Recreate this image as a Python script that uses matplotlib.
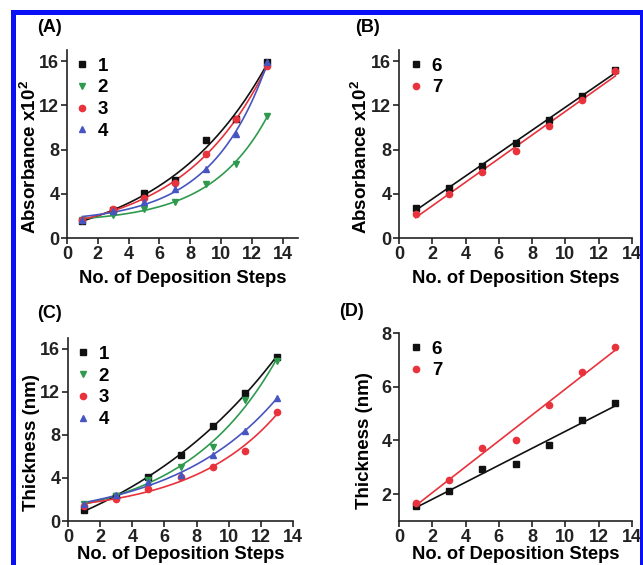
import numpy as np
import matplotlib
matplotlib.use("Agg")
import matplotlib.pyplot as plt
from matplotlib.patches import Rectangle

plt.rcParams['font.family'] = ['Liberation Sans', 'DejaVu Sans']
plt.rcParams['font.weight'] = 'bold'
plt.rcParams['mathtext.fontset'] = 'custom'
plt.rcParams['mathtext.rm'] = 'Liberation Sans:bold'
plt.rcParams['mathtext.bf'] = 'Liberation Sans:bold'

steps = [1, 3, 5, 7, 9, 11, 13]

# Panel A: absorbance x10^2, samples 1-4
abs_1 = [1.5, 2.5, 4.1, 5.2, 8.9, 10.8, 15.9]
abs_2 = [1.6, 2.06, 2.6, 3.3, 4.85, 6.67, 11.06]
abs_3 = [1.6, 2.6, 3.6, 5.0, 7.6, 10.76, 15.55]
abs_4 = [1.6, 2.4, 3.27, 4.4, 6.2, 9.4, 15.9]

# Panel B: absorbance x10^2, samples 6-7
abs_6 = [2.74, 4.5, 6.5, 8.58, 10.7, 12.83, 15.15]
abs_7 = [2.17, 4.0, 6.0, 7.9, 10.1, 12.5, 15.06]

# Panel C: thickness (nm), samples 1-4
thk_1 = [1.0, 2.3, 4.07, 6.14, 8.8, 11.85, 15.25]
thk_2 = [1.6, 2.3, 3.77, 5.0, 6.85, 11.2, 14.9]
thk_3 = [1.4, 2.0, 3.0, 4.07, 5.0, 6.54, 10.15]
thk_4 = [1.6, 2.4, 3.6, 4.23, 6.14, 8.4, 11.4]

# Panel D: thickness (nm), samples 6-7
thk_6 = [1.55, 2.12, 2.95, 3.14, 3.82, 4.75, 5.41]
thk_7 = [1.68, 2.52, 3.73, 4.0, 5.31, 6.55, 7.48]

labels_a = ['1', '2', '3', '4']
labels_b = ['6', '7']

BLACK = '#111111'
GREEN = '#2f9a4e'
RED = '#e8323c'
BLUE = '#4655c0'

W, H = 643, 565
fig = plt.figure(figsize=(W / 100, H / 100), dpi=100)


def px_axes(left, right, top, bottom):
    return fig.add_axes([left / W, 1 - bottom / H, (right - left) / W, (bottom - top) / H])


def exp_fit(x, y):
    x = np.asarray(x, float)
    y = np.asarray(y, float)
    best = None
    for k in np.linspace(0.02, 0.6, 600):
        A = np.column_stack([np.ones_like(x), np.exp(k * x)])
        coef, *_ = np.linalg.lstsq(A, y, rcond=None)
        r = np.sum((A @ coef - y) ** 2)
        if best is None or r < best[0]:
            best = (r, k, coef)
    _, k, coef = best
    xs = np.linspace(x.min(), x.max(), 200)
    return xs, coef[0] + coef[1] * np.exp(k * xs)


def lin_fit(x, y):
    p = np.polyfit(x, y, 1)
    xs = np.linspace(min(x), max(x), 50)
    return xs, np.polyval(p, xs)


def style(ax, xmax, ylim, yticks, ylabel, ylab_xy, xpad=5):
    ax.set_xlim(0, xmax)
    ax.set_ylim(*ylim)
    ax.set_xticks(range(0, 15, 2))
    ax.set_yticks(yticks)
    for s in ['top', 'right']:
        ax.spines[s].set_visible(False)
    for s in ['left', 'bottom']:
        ax.spines[s].set_linewidth(1.2)
        ax.spines[s].set_color('#222222')
    ax.tick_params(direction='out', length=4, width=1.2, labelsize=13, pad=1.5, colors='#222222')
    for t in ax.get_xticklabels() + ax.get_yticklabels():
        t.set_fontweight('bold')
    ax.set_xlabel('No. of Deposition Steps', fontsize=13.2, fontweight='bold', labelpad=xpad)
    ax.set_ylabel(ylabel, fontsize=13.5, fontweight='bold')
    ax.yaxis.set_label_coords(*ylab_xy)


def series(ax, x, y, color, marker, label, fit, ms=4.5):
    xs, ys = fit(x, y)
    ax.plot(xs, ys, color=color, lw=1.2, zorder=2)
    ax.plot(x, y, linestyle='none', marker=marker, color=color, ms=ms, label=label, zorder=3)


def legend(ax, x0):
    ax.legend(loc='upper left', bbox_to_anchor=(x0, 1.02), frameon=False, handlelength=0.6,
              handletextpad=0.55, labelspacing=0.25, borderaxespad=0.2,
              prop={'weight': 'bold', 'size': 13.5})


# Panel A
axA = px_axes(67, 298, 50, 238)
series(axA, steps, abs_1, BLACK, 's', labels_a[0], exp_fit, 4)
series(axA, steps, abs_2, GREEN, 'v', labels_a[1], exp_fit)
series(axA, steps, abs_3, RED, 'o', labels_a[2], exp_fit)
series(axA, steps, abs_4, BLUE, '^', labels_a[3], exp_fit)
style(axA, 15, (0, 17), [0, 4, 8, 12, 16], r'Absorbance x10$^{2}$', (-0.115, 0.43))
legend(axA, -0.01)

# Panel B
axB = px_axes(399, 632, 50, 238)
series(axB, steps, abs_6, BLACK, 's', labels_b[0], lin_fit, 4)
series(axB, steps, abs_7, RED, 'o', labels_b[1], lin_fit)
style(axB, 14, (0, 17), [0, 4, 8, 12, 16], r'Absorbance x10$^{2}$', (-0.12, 0.43))
legend(axB, 0.0)

# Panel C
axC = px_axes(68, 293, 338, 521)
series(axC, steps, thk_1, BLACK, 's', labels_a[0], exp_fit, 4)
series(axC, steps, thk_2, GREEN, 'v', labels_a[1], exp_fit)
series(axC, steps, thk_3, RED, 'o', labels_a[2], exp_fit)
series(axC, steps, thk_4, BLUE, '^', labels_a[3], exp_fit)
style(axC, 14, (0, 17), [0, 4, 8, 12, 16], 'Thickness (nm)', (-0.125, 0.43), xpad=0.5)
legend(axC, -0.01)

# Panel D
axD = px_axes(399, 632, 333, 521)
series(axD, steps, thk_6, BLACK, 's', labels_b[0], lin_fit, 4)
series(axD, steps, thk_7, RED, 'o', labels_b[1], lin_fit)
style(axD, 14, (1, 8), [2, 4, 6, 8], 'Thickness (nm)', (-0.11, 0.43), xpad=0.5)
legend(axD, 0.0)

# Panel letters
for lab, (x, y) in zip(['(A)', '(B)', '(C)', '(D)'], [(50, 27), (368, 27), (50, 313), (352, 312)]):
    fig.text(x / W, 1 - y / H, lab, ha='center', va='center', fontsize=13, fontweight='bold')

# Blue frame
fig.add_artist(Rectangle((12.5 / W, -20 / H), (641.5 - 12.5) / W, (553 + 20) / H,
                         transform=fig.transFigure, fill=False, edgecolor='#0a10f5',
                         lw=3.6, clip_on=False))

fig.savefig('out.png', dpi=100)
